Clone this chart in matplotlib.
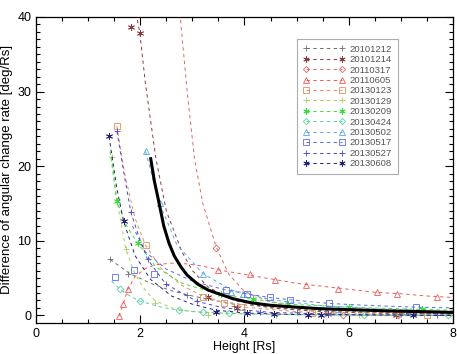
import matplotlib
matplotlib.use('Agg')
import matplotlib.pyplot as plt
from matplotlib.lines import Line2D
import numpy as np

plt.rcParams['font.family'] = ['Liberation Sans', 'DejaVu Sans']

# event labels and styles
events = ['20101212', '20101214', '20110317', '20110605', '20130123', '20130129',
          '20130209', '20130424', '20130502', '20130517', '20130527', '20130608']
colors = ['#6e6e6e', '#8c3a3a', '#d86a6a', '#f05a5a', '#e0905a', '#a8d060',
          '#36e036', '#5ad0a0', '#5aa8e0', '#5a6af0', '#4848d0', '#22227a']
ast = (6, 2, 0)
markers = ['+', ast, 'D', '^', 's', '+', ast, 'D', '^', 's', '+', ast]
msizes = [5, 5, 3.5, 5, 5, 5, 5, 3.5, 5, 5, 5, 5]

# measured points (height, rate)
pts_x = [
    [1.42, 1.76, 2.89, 3.8, 5.0, 7.0],
    [1.82, 1.99, 3.29, 3.85, 5.6, 6.9],
    [3.46, 5.9, 6.95],
    [1.59, 1.67, 1.76, 3.5, 4.1, 4.58, 5.19, 5.8, 6.54, 6.93, 7.7],
    [1.55, 2.1, 3.2, 3.6, 3.94, 5.3, 7.5],
    [1.45, 1.72, 2.28, 3.3, 4.6, 6.2],
    [1.55, 1.95, 3.54, 4.17, 4.84, 6.0, 7.4],
    [1.61, 2.0, 2.74, 3.2, 3.7, 6.3, 7.9],
    [2.1, 2.37, 3.2, 3.75, 3.98, 5.8, 7.1],
    [1.51, 1.87, 2.26, 3.64, 4.04, 4.48, 4.88, 5.62, 7.3],
    [1.55, 1.82, 2.14, 2.49, 3.08, 4.3, 5.6, 7.7],
    [1.40, 1.68, 3.45, 4.05, 4.56, 5.22, 5.46, 7.24],
]
pts_y = [
    [7.5, 5.6, 2.8, 1.2, 0.5, 0.2],
    [38.6, 37.9, 2.4, 1.0, 0.2, 0.1],
    [9.1, 0.1, 0.1],
    [-0.1, 1.5, 3.5, 6.1, 5.5, 4.8, 4.1, 3.6, 3.1, 2.9, 2.5],
    [25.4, 9.4, 2.4, 1.7, 1.1, 0.3, 0.1],
    [21.2, 8.9, 1.6, 0.1, 0.1, 0.0],
    [15.3, 9.7, 2.9, 2.2, 1.5, 1.1, 0.8],
    [3.5, 1.9, 0.7, 0.4, 0.3, 0.0, 0.0],
    [22.0, 15.0, 5.6, 3.2, 2.9, 0.9, 0.6],
    [5.1, 6.1, 5.6, 3.4, 2.9, 2.4, 2.1, 1.6, 1.1],
    [24.7, 13.8, 7.5, 4.2, 1.9, 0.5, 0.2, 0.0],
    [24.0, 12.6, 0.5, 0.3, 0.2, 0.0, 0.0, 0.0],
]

# fitted curves
fit_x = [
    [1.42, 1.8, 2.2, 2.6, 3.0, 3.5, 4.0, 5.0, 6.0, 7.0, 8.0],
    [1.92, 1.99, 2.1, 2.3, 2.5, 2.8, 3.0, 3.3, 3.8, 4.5, 5.5, 6.5, 8.0],
    [2.76, 2.9, 3.04, 3.2, 3.46, 3.7, 4.0, 4.5, 5.0, 6.0, 7.0, 8.0],
    [1.59, 1.67, 1.76, 1.9, 2.1, 2.3, 2.6, 2.9, 3.2, 3.5, 4.0, 4.5, 5.0, 5.5, 6.0, 6.5, 7.0, 7.5, 8.0],
    [1.55, 1.7, 1.9, 2.1, 2.4, 2.8, 3.2, 3.6, 4.0, 5.0, 6.0, 8.0],
    [1.45, 1.55, 1.72, 1.9, 2.1, 2.28, 2.6, 3.0, 4.0, 5.5, 8.0],
    [1.42, 1.55, 1.75, 1.95, 2.3, 2.8, 3.5, 4.17, 4.84, 6.0, 7.4, 8.0],
    [1.45, 1.61, 1.8, 2.0, 2.4, 2.74, 3.2, 4.0, 5.0, 6.5, 8.0],
    [2.1, 2.37, 2.7, 3.2, 3.75, 4.5, 5.5, 6.5, 8.0],
    [1.85, 2.1, 2.5, 3.0, 3.64, 4.04, 4.48, 4.88, 5.62, 6.5, 7.3, 8.0],
    [1.55, 1.7, 1.82, 2.0, 2.14, 2.49, 3.08, 3.6, 4.5, 6.0, 8.0],
    [1.40, 1.55, 1.68, 1.9, 2.2, 2.6, 3.0, 3.45, 4.05, 5.0, 8.0],
]
fit_y = [
    [7.5, 5.6, 4.3, 3.3, 2.6, 1.9, 1.4, 0.8, 0.5, 0.3, 0.2],
    [40.5, 37.9, 31.0, 21.0, 14.0, 8.5, 6.0, 3.8, 2.0, 1.0, 0.5, 0.3, 0.2],
    [40.5, 30.0, 21.0, 15.0, 9.1, 5.5, 3.2, 1.8, 1.1, 0.5, 0.3, 0.2],
    [-0.1, 1.5, 3.5, 5.2, 6.3, 6.8, 7.0, 6.9, 6.6, 6.1, 5.5, 4.9, 4.3, 3.9, 3.5, 3.1, 2.9, 2.6, 2.4],
    [25.4, 19.0, 13.0, 9.4, 6.3, 4.0, 2.6, 1.7, 1.1, 0.5, 0.2, 0.0],
    [21.2, 15.5, 8.9, 5.5, 3.3, 2.0, 1.0, 0.5, 0.2, 0.1, 0.0],
    [22.0, 15.3, 11.8, 9.7, 6.5, 4.3, 2.9, 2.2, 1.5, 1.1, 0.8, 0.7],
    [4.6, 3.5, 2.6, 1.9, 1.1, 0.7, 0.4, 0.2, 0.1, 0.0, 0.0],
    [22.0, 15.0, 9.5, 5.6, 3.4, 2.1, 1.3, 0.9, 0.5],
    [12.0, 8.5, 6.2, 4.6, 3.4, 2.9, 2.4, 2.1, 1.6, 1.3, 1.1, 1.0],
    [24.7, 18.5, 13.8, 10.0, 7.5, 4.2, 1.9, 1.0, 0.4, 0.1, 0.0],
    [24.0, 17.0, 12.6, 8.0, 4.8, 2.6, 1.5, 0.7, 0.3, 0.1, 0.0],
]

# mean curve
mean_x = [2.2, 2.27, 2.35, 2.45, 2.55, 2.65, 2.78, 2.9, 3.1, 3.3, 3.5, 3.8, 4.12, 4.5, 5.0, 5.45, 6.1, 6.74, 7.4, 8.0]
mean_y = [21.0, 18.0, 15.4, 12.0, 9.7, 8.0, 6.5, 5.4, 4.2, 3.4, 2.9, 2.2, 1.7, 1.35, 1.1, 0.9, 0.75, 0.6, 0.5, 0.4]

fig = plt.figure(figsize=(4.57, 3.54), dpi=100)
ax = fig.add_axes([0.079, 0.088, 0.912, 0.864])

handles = []
for i in range(len(events)):
    ax.plot(fit_x[i], fit_y[i], ls=(0, (3.5, 3.5)), lw=0.7, color=colors[i])
    ax.plot(pts_x[i], pts_y[i], ls='none', marker=markers[i], ms=msizes[i], mew=0.6,
            mfc='none', mec=colors[i])
    handles.append(Line2D([], [], ls=(0, (3.5, 3.5)), lw=0.7, color=colors[i],
                          marker=markers[i], ms=msizes[i] * 0.9, mew=0.6, mfc='none',
                          mec=colors[i]))

ax.plot(mean_x, mean_y, color='black', lw=2.2)

ax.set_xlim(0, 8)
ax.set_ylim(-1, 40)
ax.set_xticks([0, 2, 4, 6, 8])
ax.set_xticks(np.arange(0, 8.01, 0.5), minor=True)
ax.set_yticks([0, 10, 20, 30, 40])
ax.set_yticks(np.arange(0, 40.01, 1), minor=True)
ax.tick_params(which='both', direction='in', top=True, right=True, labelsize=9, width=0.8)
ax.tick_params(which='major', length=6)
ax.tick_params(which='minor', length=3)
for s in ax.spines.values():
    s.set_linewidth(0.9)

ax.set_xlabel('Height [Rs]', fontsize=9, labelpad=1)
ax.set_ylabel('Difference of angular change rate [deg/Rs]', fontsize=9.5, labelpad=3)

leg = ax.legend(handles, events, loc='upper left', bbox_to_anchor=(0.626, 0.928),
                borderaxespad=0, numpoints=2, fontsize=6.8, handlelength=4.5,
                handletextpad=0.5, labelspacing=0.15, borderpad=0.6, fancybox=False,
                labelcolor='#555555')
leg.get_frame().set_edgecolor('#999999')
leg.get_frame().set_linewidth(0.8)

fig.savefig('out.png', dpi=100)
